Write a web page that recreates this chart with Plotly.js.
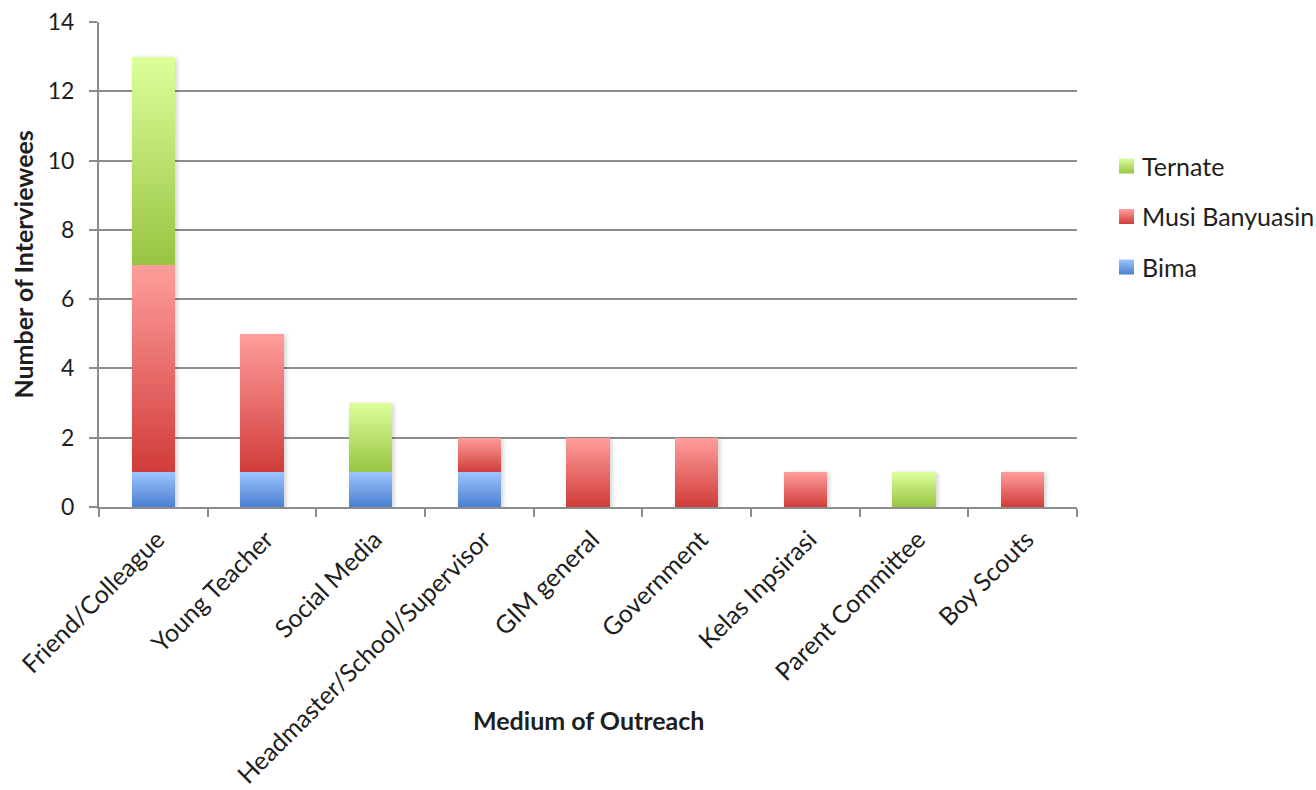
<!DOCTYPE html>
<html>
<head>
<meta charset="utf-8">
<script src="https://cdn.plot.ly/plotly-3.0.1.min.js"></script>
<style>
  html, body { margin: 0; padding: 0; background: #fff; }
  #chart { width: 1316px; height: 790px; }
</style>
</head>
<body>
<div id="chart"></div>
<script>
// Outreach channels and number of interviewees per district
const categories = [
  'Friend/Colleague', 'Young Teacher', 'Social Media',
  'Headmaster/School/Supervisor', 'GIM general', 'Government',
  'Kelas Inpsirasi', 'Parent Committee', 'Boy Scouts'
];
const bima          = [1, 1, 1, 1, 0, 0, 0, 0, 0];
const musiBanyuasin = [6, 4, 0, 1, 2, 2, 1, 0, 1];
const ternate       = [6, 0, 2, 0, 0, 0, 0, 1, 0];
const yTicks = [0, 2, 4, 6, 8, 10, 12, 14];

// vertical gradient stops (top, bottom) for each series
const gradients = [
  { id: 'g-bima',    top: '#9cc3ff', bottom: '#4a80d0' },
  { id: 'g-musi',    top: '#ff9e9c', bottom: '#d03c3a' },
  { id: 'g-ternate', top: '#dcff9a', bottom: '#98c442' }
];

const font = 'Lato, "Open Sans", sans-serif';
const textColor = '#1e1e1e';
const gridColor = '#8c8c8c';

const series = [
  { name: 'Bima',           y: bima,          color: '#74a2e8', rank: 3 },
  { name: 'Musi Banyuasin', y: musiBanyuasin, color: '#ec6e6c', rank: 2 },
  { name: 'Ternate',        y: ternate,       color: '#bce070', rank: 1 }
];

const data = series.map((s, i) => ({
  type: 'bar',
  name: s.name,
  x: categories,
  y: s.y,
  width: 0.4,
  legendgroup: 'g' + i,
  legendrank: s.rank,
  marker: { color: s.color, line: { width: 0 } },
  hoverinfo: 'x+y+name'
}));

const layout = {
  width: 1316,
  height: 790,
  barmode: 'stack',
  paper_bgcolor: '#fff',
  plot_bgcolor: '#fff',
  margin: { l: 99, r: 239, t: 22, b: 283 },
  font: { family: font, size: 22, color: textColor },
  showlegend: true,
  legend: {
    xref: 'container', yref: 'container',
    x: 0.8374, xanchor: 'left',
    y: 0.7255, yanchor: 'middle',
    traceorder: 'grouped',
    tracegroupgap: 15,
    font: { family: font, size: 25, color: textColor },
    itemwidth: 30
  },
  xaxis: {
    type: 'category',
    tickangle: -45,
    tickson: 'boundaries',
    ticks: 'outside',
    ticklen: 8,
    tickwidth: 2,
    tickcolor: gridColor,
    showline: true,
    linecolor: gridColor,
    linewidth: 2,
    showgrid: false,
    ticklabelstandoff: 6,
    ticklabelshift: 4,
    tickfont: { family: font, size: 25, color: textColor }
  },
  yaxis: {
    range: [0, 14],
    tickvals: yTicks,
    ticktext: yTicks.map(String),
    ticks: 'outside',
    ticklen: 8,
    tickwidth: 2,
    tickcolor: gridColor,
    showline: true,
    linecolor: gridColor,
    linewidth: 2,
    showgrid: true,
    gridcolor: gridColor,
    gridwidth: 2,
    zeroline: false,
    ticklabelstandoff: 10,
    tickfont: { family: font, size: 23, color: textColor }
  },
  annotations: [
    {
      text: '<b>Medium of Outreach</b>',
      xref: 'paper', yref: 'paper',
      x: 0.5, y: -0.439,
      xanchor: 'center', yanchor: 'middle',
      showarrow: false,
      font: { family: font, size: 25, color: textColor }
    },
    {
      text: '<b>Number of Interviewees</b>',
      xref: 'paper', yref: 'paper',
      x: -0.0787, y: 0.5,
      xanchor: 'center', yanchor: 'middle',
      textangle: -90,
      showarrow: false,
      font: { family: font, size: 25, color: textColor }
    }
  ]
};

const SVGNS = 'http://www.w3.org/2000/svg';

function addDefs(gd) {
  const svg = gd.querySelector('svg.main-svg');
  let defs = svg.querySelector('defs');
  if (!defs) { defs = document.createElementNS(SVGNS, 'defs'); svg.prepend(defs); }
  gradients.forEach(g => {
    const lg = document.createElementNS(SVGNS, 'linearGradient');
    lg.setAttribute('id', g.id);
    lg.setAttribute('x1', '0'); lg.setAttribute('y1', '0');
    lg.setAttribute('x2', '0'); lg.setAttribute('y2', '1');
    [[0, g.top], [1, g.bottom]].forEach(([o, c]) => {
      const st = document.createElementNS(SVGNS, 'stop');
      st.setAttribute('offset', o);
      st.setAttribute('stop-color', c);
      lg.appendChild(st);
    });
    defs.appendChild(lg);
  });
  const f = document.createElementNS(SVGNS, 'filter');
  f.setAttribute('id', 'bar-shadow');
  f.setAttribute('x', '-20%'); f.setAttribute('y', '-5%');
  f.setAttribute('width', '150%'); f.setAttribute('height', '115%');
  const ds = document.createElementNS(SVGNS, 'feDropShadow');
  ds.setAttribute('dx', '2'); ds.setAttribute('dy', '1');
  ds.setAttribute('stdDeviation', '2');
  ds.setAttribute('flood-color', '#000');
  ds.setAttribute('flood-opacity', '0.18');
  f.appendChild(ds);
  defs.appendChild(f);
}

function applyGradients(gd) {
  const traces = gd.querySelectorAll('.barlayer .trace');
  traces.forEach((t, i) => {
    t.querySelectorAll('path').forEach(p => { p.style.fill = 'url(#' + gradients[i].id + ')'; });
  });
  const bl = gd.querySelector('.barlayer');
  if (bl) bl.setAttribute('filter', 'url(#bar-shadow)');
  // square legend swatches with the same gradient as the bars
  gd.querySelectorAll('.legend .traces').forEach(tr => {
    const name = tr.querySelector('.legendtext').textContent;
    const idx = series.findIndex(s => s.name === name);
    tr.querySelectorAll('.legendpoints path').forEach(p => {
      p.setAttribute('d', 'M32,7.5H17V-7.5H32Z');
      p.removeAttribute('transform');
      p.style.fill = 'url(#' + gradients[idx].id + ')';
      p.style.stroke = 'none';
    });
  });
}

const gd = document.getElementById('chart');
Plotly.newPlot(gd, data, layout, { displayModeBar: false, staticPlot: true }).then(() => {
  addDefs(gd);
  applyGradients(gd);
});
</script>
</body>
</html>
